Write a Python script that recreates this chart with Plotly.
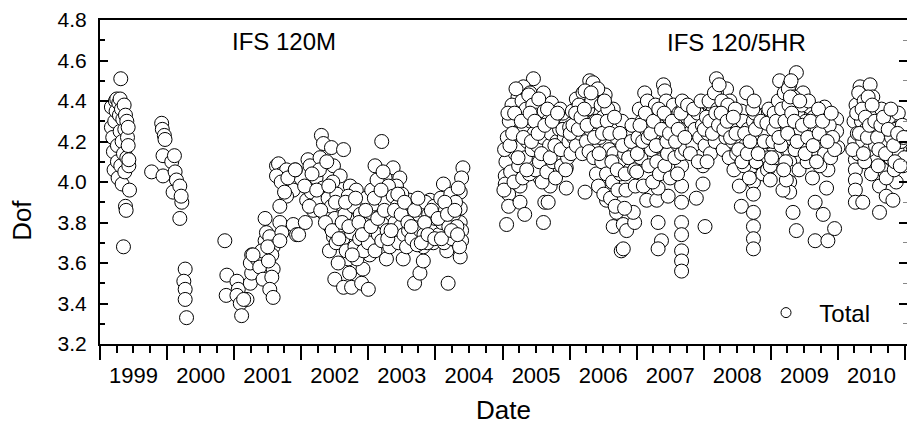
import pandas as pd
import plotly.graph_objects as go

# ---------------- data (decimal year, Dof) ----------------
yr_1999 = [1999.17, 1999.17, 1999.19, 1999.20, 1999.21, 1999.22, 1999.23, 1999.24, 1999.25, 1999.26,
           1999.26, 1999.27, 1999.28, 1999.29, 1999.30, 1999.30, 1999.31, 1999.31, 1999.32, 1999.33,
           1999.33, 1999.34, 1999.35, 1999.35, 1999.36, 1999.37, 1999.37, 1999.38, 1999.38, 1999.39,
           1999.40, 1999.40, 1999.41, 1999.42, 1999.42, 1999.43, 1999.44, 1999.43]
dof_1999 = [4.37, 4.27, 4.22, 4.15, 4.06, 4.30, 4.40, 4.35, 4.41, 4.18,
            4.10, 4.02, 4.39, 4.33, 4.41, 4.25, 4.51, 4.08, 4.36, 4.20,
            3.99, 4.31, 4.14, 3.68, 4.38, 4.26, 4.05, 4.33, 3.88, 3.86,
            4.30, 4.12, 4.22, 4.27, 4.18, 4.08, 3.96, 4.11]

yr_2000 = [1999.77, 1999.92, 1999.93, 1999.96, 1999.97, 1999.94, 1999.94, 2000.07, 2000.11, 2000.12,
           2000.14, 2000.09, 2000.19, 2000.22, 2000.21, 2000.19, 2000.27, 2000.25, 2000.27, 2000.27,
           2000.29]
dof_2000 = [4.05, 4.29, 4.26, 4.23, 4.21, 4.13, 4.03, 4.10, 4.13, 4.05,
            4.01, 3.95, 3.98, 3.90, 3.93, 3.82, 3.57, 3.51, 3.47, 3.42,
            3.33]

yr_2001 = [2000.86, 2000.89, 2000.88, 2001.04, 2001.06, 2001.04, 2001.09, 2001.19, 2001.11, 2001.14,
           2001.24, 2001.26, 2001.26, 2001.24, 2001.34, 2001.38, 2001.43, 2001.46, 2001.46, 2001.48,
           2001.53, 2001.58, 2001.56, 2001.58, 2001.56, 2001.53, 2001.58, 2001.41, 2001.51, 2001.50,
           2001.63, 2001.66, 2001.71, 2001.73, 2001.78, 2001.91, 2001.83, 2001.88, 2001.78, 2001.68,
           2001.68, 2001.71, 2001.68, 2001.88, 2001.93, 2001.63, 2001.70, 2001.75, 2001.80, 2001.28]
dof_2001 = [3.71, 3.54, 3.44, 3.51, 3.47, 3.44, 3.40, 3.42, 3.34, 3.42,
            3.50, 3.55, 3.64, 3.60, 3.62, 3.58, 3.52, 3.71, 3.82, 3.75,
            3.73, 3.68, 3.64, 3.57, 3.53, 3.47, 3.43, 3.66, 3.61, 3.68,
            4.08, 4.09, 4.04, 4.01, 4.06, 4.06, 3.98, 3.96, 3.93, 3.88,
            3.80, 3.75, 3.71, 3.79, 3.74, 4.03, 4.00, 3.95, 4.02, 3.64]

yr_2002_04 = [2001.91, 2001.96, 2002.06, 2002.10, 2002.13, 2002.20, 2002.08, 2002.30, 2002.33, 2002.45,
              2002.63, 2002.28, 2002.48, 2002.58, 2002.73, 2002.43, 2002.48, 2002.50, 2002.63, 2002.75,
              2002.90, 2003.00, 2002.70, 2002.92, 2003.02, 2003.02, 2002.82, 2002.90, 2002.73, 2002.85,
              2003.20, 2003.10, 2003.37, 2003.25, 2003.47, 2003.42, 2003.32, 2003.52, 2003.62, 2003.27,
              2003.52, 2003.69, 2003.77, 2003.82, 2003.82, 2003.72, 2003.92, 2004.12, 2004.19, 2004.17,
              2004.41, 2004.39, 2004.37, 2004.37, 2004.37, 2004.39, 2004.39, 2004.37, 2004.07, 2004.22,
              2004.02, 2003.97,
              2002.15, 2002.18, 2002.22, 2002.25, 2002.27, 2002.32, 2002.35, 2002.38, 2002.40, 2002.42,
              2002.45, 2002.47, 2002.50, 2002.52, 2002.53, 2002.55, 2002.57, 2002.60, 2002.62, 2002.65,
              2002.67, 2002.70, 2002.72, 2002.75, 2002.78, 2002.80, 2002.83, 2002.87, 2002.88, 2002.93,
              2002.95, 2002.97, 2003.00, 2003.03, 2003.05, 2003.07, 2003.10, 2003.12, 2003.13, 2003.15,
              2003.17, 2003.18, 2003.20, 2003.22, 2003.23, 2003.25, 2003.28, 2003.30, 2003.32, 2003.35,
              2003.37, 2003.38, 2003.40, 2003.43, 2003.45, 2003.48, 2003.50, 2003.53, 2003.55, 2003.57,
              2003.58, 2003.60, 2003.63, 2003.65, 2003.67, 2003.70, 2003.73, 2003.75, 2003.78, 2003.80,
              2003.83, 2003.85, 2003.87, 2003.88, 2003.90, 2003.95, 2003.98, 2004.00, 2004.05, 2004.08,
              2004.10, 2004.13, 2004.15, 2004.20, 2004.23, 2004.25, 2004.27, 2004.30, 2004.32, 2004.34,
              2004.36,
              2002.05, 2002.12, 2002.16, 2002.23, 2002.29, 2002.36, 2002.41, 2002.46, 2002.51, 2002.56,
              2002.61, 2002.66, 2002.71, 2002.76, 2002.81, 2002.86, 2002.91, 2002.96, 2003.04, 2003.09,
              2003.14, 2003.19, 2003.24, 2003.29, 2003.34, 2003.39, 2003.44, 2003.49, 2003.54, 2003.59,
              2003.64, 2003.69, 2003.74, 2003.79, 2003.84, 2003.89, 2003.94, 2003.99, 2004.04, 2004.09,
              2004.14, 2004.18, 2004.24, 2004.29, 2004.33]
dof_2002_04 = [4.06, 3.74, 3.80, 4.11, 4.08, 3.94, 3.91, 4.23, 4.19, 4.17,
               4.16, 4.12, 4.08, 4.03, 3.98, 3.78, 3.73, 3.52, 3.48, 3.48,
               3.50, 3.47, 3.62, 3.57, 3.64, 3.75, 3.96, 3.88, 3.81, 3.78,
               4.20, 4.08, 4.07, 4.02, 4.02, 3.98, 3.89, 3.86, 3.91, 3.62,
               3.62, 3.50, 3.55, 3.61, 3.68, 3.88, 3.91, 3.99, 3.50, 3.66,
               4.07, 4.02, 3.95, 3.87, 3.80, 3.76, 3.71, 3.63, 3.85, 3.86,
               3.75, 3.70,
               3.95, 3.86, 4.02, 3.90, 4.06, 3.97, 3.84, 4.10, 3.92, 3.66,
               3.88, 4.00, 3.82, 3.70, 3.94, 3.60, 3.77, 3.89, 3.72, 3.84,
               3.66, 3.93, 3.55, 3.75, 3.88, 3.68, 3.62, 3.72, 3.84, 3.66,
               3.79, 3.92, 3.70, 3.85, 3.96, 3.78, 3.66, 3.89, 4.01, 3.74,
               3.83, 3.94, 3.71, 4.05, 3.80, 3.90, 3.76, 3.98, 3.68, 3.84,
               3.93, 3.74, 3.80, 3.88, 3.70, 3.78, 3.94, 3.74, 3.83, 3.68,
               3.88, 3.76, 3.82, 3.72, 3.88, 3.79, 3.69, 3.84, 3.76, 3.86,
               3.74, 3.90, 3.80, 3.70, 3.84, 3.78, 3.88, 3.82, 3.74, 3.92,
               3.80, 3.70, 3.86, 3.78, 3.94, 3.72, 3.84, 3.90, 3.78, 3.97,
               3.68,
               3.98, 3.88, 4.04, 3.96, 3.86, 3.80, 3.98, 3.76, 3.90, 3.72,
               3.80, 3.90, 3.78, 3.64, 3.92, 3.80, 3.74, 3.86, 3.78, 3.92,
               3.82, 3.96, 3.86, 3.72, 3.76, 3.86, 3.94, 3.84, 3.90, 3.80,
               3.78, 3.86, 3.92, 3.70, 3.80, 3.74, 3.86, 3.72, 3.82, 3.72,
               3.90, 3.84, 3.76, 3.86, 3.74]

yr_2005 = [2005.06, 2005.04, 2005.04, 2005.09, 2005.09, 2005.16, 2005.13, 2005.18, 2005.21, 2005.23,
           2005.46, 2005.31, 2005.41, 2005.61, 2005.26, 2005.26, 2005.33, 2005.61, 2005.63, 2005.68,
           2005.56, 2005.71, 2005.95, 2005.95, 2005.93, 2005.90, 2005.73, 2005.86, 2005.66, 2005.76,
           2005.48, 2005.38, 2005.56, 2005.73,
           2005.02, 2005.05, 2005.07, 2005.10, 2005.12, 2005.14, 2005.17, 2005.19, 2005.20, 2005.22,
           2005.24, 2005.25, 2005.27, 2005.29, 2005.30, 2005.32, 2005.34, 2005.35, 2005.37, 2005.39,
           2005.40, 2005.42, 2005.44, 2005.45, 2005.47, 2005.49, 2005.50, 2005.52, 2005.54, 2005.55,
           2005.57, 2005.59, 2005.60, 2005.62, 2005.64, 2005.66, 2005.68, 2005.70, 2005.72, 2005.75,
           2005.77, 2005.79, 2005.81, 2005.83, 2005.85, 2005.88, 2005.92, 2005.97,
           2005.03, 2005.08, 2005.11, 2005.15, 2005.18, 2005.23, 2005.28, 2005.31, 2005.36, 2005.41,
           2005.43, 2005.48, 2005.53, 2005.58, 2005.63, 2005.67, 2005.71, 2005.74, 2005.78, 2005.82,
           2005.87, 2005.90, 2005.94, 2005.99]
dof_2005 = [3.79, 4.03, 3.99, 3.94, 3.88, 4.11, 4.19, 4.27, 4.36, 4.42,
            4.51, 4.47, 4.44, 4.44, 3.98, 3.90, 3.84, 3.80, 3.90, 3.90,
            4.02, 3.98, 3.97, 4.07, 4.17, 4.34, 4.39, 4.36, 4.22, 4.27,
            4.19, 4.11, 4.08, 4.08,
            3.96, 4.10, 4.22, 4.30, 4.05, 4.38, 4.00, 4.14, 4.46, 4.24,
            4.08, 4.33, 4.17, 4.40, 4.02, 4.26, 4.12, 4.36, 4.20, 4.43,
            4.04, 4.30, 4.16, 4.38, 4.24, 4.06, 4.33, 4.18, 4.41, 4.10,
            4.28, 4.00, 4.22, 4.35, 4.14, 4.05, 4.30, 4.18, 4.24, 4.10,
            4.32, 4.02, 4.20, 4.14, 4.26, 4.08, 4.22, 4.12,
            4.16, 4.34, 4.18, 4.24, 4.34, 4.12, 4.30, 4.22, 4.06, 4.34,
            4.20, 4.30, 4.24, 4.14, 4.28, 4.36, 4.12, 4.30, 4.18, 4.34,
            4.16, 4.26, 4.06, 4.20]

yr_2006 = [2006.00, 2006.10, 2006.20, 2006.30, 2006.35, 2006.53, 2006.65, 2006.80, 2006.40, 2006.55,
           2006.60, 2006.65, 2006.55, 2006.70, 2006.65, 2006.80, 2006.77, 2006.23,
           2006.02, 2006.04, 2006.06, 2006.08, 2006.10, 2006.12, 2006.14, 2006.16, 2006.19, 2006.21,
           2006.23, 2006.25, 2006.27, 2006.29, 2006.31, 2006.33, 2006.36, 2006.38, 2006.40, 2006.42,
           2006.43, 2006.45, 2006.47, 2006.48, 2006.50, 2006.51, 2006.53, 2006.55, 2006.57, 2006.59,
           2006.61, 2006.62, 2006.64, 2006.66, 2006.68, 2006.70, 2006.72, 2006.74, 2006.76, 2006.78,
           2006.82, 2006.84, 2006.87, 2006.90, 2006.93, 2006.96, 2006.98,
           2006.80, 2006.85, 2006.97, 2006.95, 2006.82,
           2006.01, 2006.05, 2006.09, 2006.13, 2006.17, 2006.22, 2006.26, 2006.32, 2006.37, 2006.41,
           2006.44, 2006.49, 2006.52, 2006.56, 2006.60, 2006.63, 2006.67, 2006.71, 2006.75, 2006.79,
           2006.83, 2006.88, 2006.92, 2006.97]
dof_2006 = [4.27, 4.41, 4.44, 4.50, 4.49, 4.43, 4.36, 4.27, 4.34, 4.19,
            4.09, 4.06, 3.91, 3.85, 3.78, 3.79, 3.66, 3.95,
            4.14, 4.35, 4.22, 4.28, 4.18, 4.32, 4.38, 4.24, 4.14, 4.30,
            4.45, 4.20, 4.36, 4.15, 4.26, 4.40, 4.12, 4.30, 4.04, 4.46,
            3.98, 4.22, 4.38, 4.10, 4.32, 3.94, 4.26, 4.04, 4.36, 4.16,
            3.92, 4.28, 4.00, 4.14, 3.88, 4.22, 3.96, 4.10, 4.04, 4.30,
            4.14, 3.96, 4.22, 4.06, 4.28, 4.16, 3.98,
            3.67, 3.76, 3.80, 3.85, 3.87,
            4.24, 4.28, 4.34, 4.26, 4.32, 4.36, 4.28, 4.44, 4.22, 4.30,
            4.14, 4.24, 4.40, 4.30, 4.24, 4.10, 4.32, 4.06, 4.24, 4.18,
            4.04, 4.12, 4.20, 4.06]

yr_2007 = [2007.12, 2007.40, 2007.42, 2007.32, 2007.37, 2007.32, 2007.15, 2007.30, 2007.47, 2007.32,
           2007.37, 2007.67, 2007.67, 2007.67, 2007.67, 2007.67, 2007.67, 2007.67, 2007.67, 2007.99,
           2007.99, 2007.89, 2008.02, 2007.79, 2007.97, 2007.35, 2007.47, 2007.54,
           2007.00, 2007.02, 2007.04, 2007.06, 2007.08, 2007.10, 2007.12, 2007.14, 2007.16, 2007.18,
           2007.20, 2007.22, 2007.24, 2007.26, 2007.28, 2007.30, 2007.32, 2007.34, 2007.36, 2007.38,
           2007.40, 2007.42, 2007.44, 2007.46, 2007.48, 2007.50, 2007.52, 2007.55, 2007.57, 2007.59,
           2007.61, 2007.63, 2007.65, 2007.67, 2007.67, 2007.67, 2007.69, 2007.71, 2007.73, 2007.75,
           2007.78, 2007.81, 2007.84, 2007.87, 2007.91, 2007.94, 2007.98,
           2007.01, 2007.05, 2007.09, 2007.13, 2007.17, 2007.21, 2007.25, 2007.29, 2007.33, 2007.37,
           2007.41, 2007.45, 2007.49, 2007.53, 2007.58, 2007.62, 2007.66, 2007.68, 2007.72, 2007.76,
           2007.80, 2007.85, 2007.92, 2007.96]
dof_2007 = [4.44, 4.48, 4.45, 3.80, 3.71, 3.67, 3.91, 3.91, 3.93, 3.97,
            4.11, 4.08, 3.98, 3.90, 3.80, 3.74, 3.66, 3.61, 3.56, 4.08,
            3.99, 3.92, 3.78, 4.35, 4.33, 4.20, 4.27, 4.34,
            4.05, 4.22, 4.36, 4.12, 4.30, 3.98, 4.18, 4.26, 4.40, 4.08,
            4.32, 4.16, 4.00, 4.24, 4.38, 4.10, 4.28, 4.04, 4.34, 4.18,
            4.26, 4.08, 4.40, 4.14, 4.32, 4.02, 4.22, 4.38, 4.12, 4.28,
            4.04, 4.34, 4.20, 4.14, 4.24, 4.30, 4.36, 4.26, 4.16, 4.32,
            4.24, 4.30, 4.18, 4.26, 4.34, 4.22, 4.28,
            4.14, 4.28, 4.20, 4.34, 4.22, 4.24, 4.30, 4.18, 4.36, 4.26,
            4.34, 4.20, 4.24, 4.30, 4.20, 4.26, 4.34, 4.40, 4.22, 4.38,
            4.14, 4.36, 4.10, 4.40]

yr_2008 = [2008.14, 2008.19, 2008.34, 2008.19, 2008.39, 2008.64, 2008.56, 2008.56, 2008.74, 2008.74,
           2008.74, 2008.74, 2008.74, 2008.74, 2008.74, 2008.89, 2008.94, 2008.84,
           2008.02, 2008.04, 2008.06, 2008.08, 2008.10, 2008.12, 2008.16, 2008.17, 2008.21, 2008.23,
           2008.25, 2008.27, 2008.29, 2008.31, 2008.33, 2008.36, 2008.38, 2008.41, 2008.43, 2008.45,
           2008.47, 2008.49, 2008.51, 2008.53, 2008.55, 2008.58, 2008.60, 2008.62, 2008.66, 2008.68,
           2008.70, 2008.72, 2008.74, 2008.74, 2008.74, 2008.76, 2008.78, 2008.80, 2008.82, 2008.86,
           2008.88, 2008.91, 2008.96, 2008.97,
           2008.01, 2008.05, 2008.09, 2008.13, 2008.18, 2008.22, 2008.26, 2008.30, 2008.35, 2008.40,
           2008.44, 2008.48, 2008.52, 2008.57, 2008.61, 2008.65, 2008.69, 2008.73, 2008.75, 2008.77,
           2008.81, 2008.85, 2008.90, 2008.95]
dof_2008 = [4.37, 4.51, 4.46, 4.44, 4.40, 4.44, 4.35, 3.88, 4.08, 4.00,
            3.94, 3.85, 3.78, 3.72, 3.67, 4.33, 4.20, 4.09,
            4.18, 4.32, 4.24, 4.40, 4.14, 4.28, 4.44, 4.20, 4.36, 4.48,
            4.26, 4.40, 4.16, 4.32, 4.22, 4.38, 4.12, 4.30, 4.20, 4.06,
            4.36, 4.14, 4.26, 3.98, 4.20, 4.30, 4.08, 4.18, 4.26, 4.02,
            4.12, 4.22, 4.16, 4.24, 4.30, 4.34, 4.10, 4.20, 4.28, 4.14,
            4.04, 4.24, 4.12, 4.36,
            4.26, 4.10, 4.30, 4.24, 4.34, 4.28, 4.34, 4.26, 4.30, 4.22,
            4.32, 4.24, 4.16, 4.10, 4.24, 4.14, 4.20, 4.36, 4.40, 4.26,
            4.14, 4.30, 4.20, 4.06]

yr_2009 = [2009.13, 2009.38, 2009.28, 2009.28, 2009.28, 2009.28, 2009.28, 2009.28, 2009.28, 2009.28,
           2009.28, 2009.28, 2009.28, 2009.28, 2008.94, 2008.99, 2008.99, 2009.48, 2009.58, 2009.80,
           2009.78, 2009.98, 2009.98, 2010.00, 2009.85, 2009.83, 2009.66, 2009.78, 2009.33, 2009.38,
           2009.66, 2009.85, 2009.95, 2009.18, 2009.23,
           2009.03, 2009.05, 2009.07, 2009.09, 2009.11, 2009.15, 2009.17, 2009.20, 2009.22, 2009.24,
           2009.26, 2009.30, 2009.32, 2009.34, 2009.36, 2009.40, 2009.42, 2009.44, 2009.46, 2009.50,
           2009.52, 2009.54, 2009.56, 2009.60, 2009.62, 2009.64, 2009.67, 2009.69, 2009.71, 2009.73,
           2009.75, 2009.80, 2009.82, 2009.87, 2009.89, 2009.92, 2009.95,
           2009.01, 2009.04, 2009.08, 2009.12, 2009.16, 2009.19, 2009.21, 2009.25, 2009.27, 2009.29,
           2009.31, 2009.35, 2009.39, 2009.43, 2009.47, 2009.51, 2009.55, 2009.59, 2009.63, 2009.68,
           2009.72, 2009.77, 2009.84, 2009.90]
dof_2009 = [4.50, 4.54, 4.48, 4.44, 4.40, 4.35, 4.30, 4.25, 4.20, 4.15,
            4.10, 4.05, 4.00, 3.95, 4.29, 4.08, 4.01, 4.44, 4.37, 4.37,
            4.31, 4.31, 4.25, 4.17, 4.06, 3.97, 3.90, 3.84, 3.85, 3.76,
            3.71, 3.71, 3.77, 3.96, 4.01,
            4.20, 4.34, 4.12, 4.26, 4.40, 4.18, 4.30, 4.44, 4.10, 4.36,
            4.46, 4.50, 4.24, 4.42, 4.16, 4.34, 4.06, 4.26, 4.38, 4.20,
            4.30, 4.10, 4.40, 4.24, 4.02, 4.32, 4.16, 4.26, 4.36, 4.08,
            4.20, 4.14, 4.24, 4.28, 4.12, 4.22, 4.16,
            4.12, 4.26, 4.30, 4.22, 4.36, 4.06, 4.30, 4.24, 4.38, 4.42,
            4.34, 4.30, 4.20, 4.40, 4.28, 4.14, 4.22, 4.30, 4.18, 4.10,
            4.24, 4.30, 4.20, 4.34]

yr_2010 = [2010.26, 2010.26, 2010.26, 2010.26, 2010.26, 2010.37, 2010.33, 2010.48, 2010.52, 2010.33,
           2010.43, 2010.62, 2010.80, 2010.92, 2010.57, 2010.67, 2010.62, 2010.72, 2010.62, 2010.82,
           2010.92, 2010.97, 2010.87,
           2010.24, 2010.25, 2010.27, 2010.29, 2010.30, 2010.31, 2010.35, 2010.37, 2010.39, 2010.40,
           2010.42, 2010.45, 2010.46, 2010.48, 2010.50, 2010.52, 2010.54, 2010.56, 2010.58, 2010.60,
           2010.63, 2010.65, 2010.67, 2010.70, 2010.72, 2010.74, 2010.76, 2010.78, 2010.80, 2010.84,
           2010.86, 2010.88, 2010.90, 2010.94, 2010.96, 2010.99,
           2010.22, 2010.28, 2010.32, 2010.36, 2010.38, 2010.41, 2010.44, 2010.47, 2010.51, 2010.55,
           2010.59, 2010.61, 2010.64, 2010.68, 2010.71, 2010.75, 2010.79, 2010.83, 2010.85, 2010.89,
           2010.93, 2010.98]
dof_2010 = [4.11, 4.06, 4.01, 3.96, 3.90, 3.90, 4.47, 4.48, 4.42, 4.39,
            4.36, 4.33, 4.30, 4.27, 4.11, 4.06, 3.98, 3.93, 3.85, 3.91,
            4.16, 4.08, 4.00,
            4.30, 4.20, 4.38, 4.24, 4.14, 4.44, 4.30, 4.20, 4.40, 4.10,
            4.26, 4.42, 4.16, 4.34, 4.04, 4.24, 4.36, 4.18, 4.28, 4.08,
            4.22, 4.36, 4.16, 4.26, 4.02, 4.20, 4.32, 4.12, 4.22, 4.06,
            4.26, 4.16, 4.34, 4.20, 4.28, 4.12,
            4.16, 4.34, 4.24, 4.36, 4.14, 4.32, 4.22, 4.28, 4.38, 4.30,
            4.22, 4.16, 4.28, 4.32, 4.14, 4.26, 4.36, 4.18, 4.10, 4.24,
            4.08, 4.22]

period_labels = ["IFS 120M", "IFS 120/5HR"]
series_name = "Total"

# ---------------- build ----------------
years = (yr_1999 + yr_2000 + yr_2001 + yr_2002_04 + yr_2005 + yr_2006
         + yr_2007 + yr_2008 + yr_2009 + yr_2010)
dof = (dof_1999 + dof_2000 + dof_2001 + dof_2002_04 + dof_2005 + dof_2006
       + dof_2007 + dof_2008 + dof_2009 + dof_2010)


def to_date(y):
    yr = int(y)
    start = pd.Timestamp(year=yr, month=1, day=1)
    end = pd.Timestamp(year=yr + 1, month=1, day=1)
    return start + (end - start) * (y - yr)


dates = [to_date(y) for y in years]

FONT = "Arial, 'Liberation Sans', sans-serif"

fig = go.Figure()
fig.add_trace(go.Scatter(
    x=dates, y=dof, mode="markers", showlegend=False,
    marker=dict(symbol="circle", size=14, color="white",
                line=dict(color="black", width=1)),
    hoverinfo="skip"))
# legend entry (on the right-hand mirror axis)
fig.add_trace(go.Scatter(
    x=[None], y=[None], mode="markers", name="\u00a0\u00a0" + series_name,
    yaxis="y2",
    marker=dict(symbol="circle", size=10, color="white",
                line=dict(color="black", width=1))))

fig.update_layout(
    width=907, height=424,
    margin=dict(l=100, r=0, t=20, b=80),
    paper_bgcolor="white", plot_bgcolor="white",
    font=dict(family=FONT, color="black"),
    xaxis=dict(
        type="date", range=["1999-01-01", "2011-01-12"],
        tick0="1999-01-01", dtick="M12", tickformat="%Y",
        ticklabelmode="period",
        ticks="outside", ticklen=14, tickwidth=1.5, tickcolor="black",
        minor=dict(dtick="M3", ticks="outside", ticklen=7, tickwidth=1.5, tickcolor="black"),
        showline=True, linecolor="black", linewidth=2, mirror=True,
        showgrid=False, zeroline=False,
        tickfont=dict(size=22), ticklabelstandoff=-3,
    ),
    yaxis=dict(
        range=[3.2, 4.8], tick0=3.2, dtick=0.2, tickformat=".1f",
        ticks="inside", ticklen=8, tickwidth=1.5, tickcolor="black",
        minor=dict(dtick=0.1, ticks="inside", ticklen=5, tickwidth=1.5, tickcolor="black"),
        showline=True, linecolor="black", linewidth=2,
        showgrid=False, zeroline=False,
        tickfont=dict(size=21), ticklabelstandoff=7,
    ),
    yaxis2=dict(
        overlaying="y", side="right", anchor="x",
        range=[3.2, 4.8], tick0=3.2, dtick=0.2,
        ticks="inside", ticklen=8, tickwidth=1.5, tickcolor="black",
        minor=dict(dtick=0.1, ticks="inside", ticklen=4, tickwidth=1, tickcolor="#888"),
        showline=False, showticklabels=False, showgrid=False, zeroline=False,
    ),
    legend=dict(
        x=0.8253, y=0.0957, xanchor="left", yanchor="middle",
        font=dict(size=24, family=FONT), bgcolor="rgba(0,0,0,0)", borderwidth=0,
    ),
    annotations=[
        dict(text=period_labels[0], x=0.228, y=0.935, xref="paper", yref="paper",
             xanchor="center", yanchor="middle", showarrow=False, font=dict(size=24)),
        dict(text=period_labels[1], x=0.789, y=0.932, xref="paper", yref="paper",
             xanchor="center", yanchor="middle", showarrow=False, font=dict(size=24)),
        dict(text="Dof", x=-0.0967, y=0.383, xref="paper", yref="paper",
             xanchor="center", yanchor="middle",
             textangle=-90, showarrow=False, font=dict(size=26)),
        dict(text="Date", x=0.5006, y=-0.2037, xref="paper", yref="paper",
             xanchor="center", yanchor="middle", showarrow=False, font=dict(size=26)),
    ],
)

fig.write_html("out.html")
